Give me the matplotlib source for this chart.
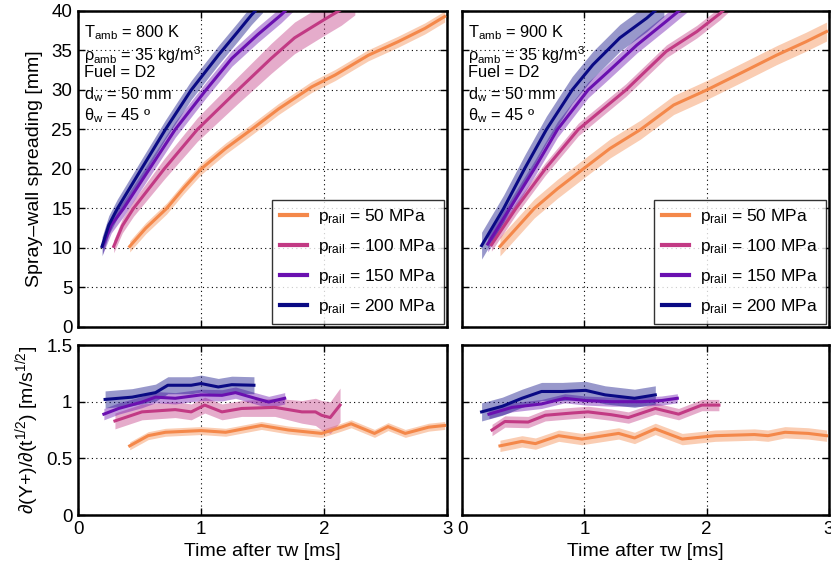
import numpy as np
import matplotlib
matplotlib.use("Agg")
import matplotlib.pyplot as plt

plt.rcParams["font.family"] = ["Liberation Sans", "DejaVu Sans"]
plt.rcParams["mathtext.fontset"] = "custom"
plt.rcParams["mathtext.rm"] = "Liberation Sans"
plt.rcParams["mathtext.it"] = "Liberation Sans:italic"
plt.rcParams["mathtext.bf"] = "Liberation Sans:bold"

# ---------- series styling ----------
labels = ["50", "100", "150", "200"]
colors = ["#f4884a", "#c23a84", "#6a10b0", "#0a0a84"]

# ---------- top-left: spreading, 800 K ----------
t800_50 = [0.42, 0.55, 0.72, 0.86, 1.00, 1.20, 1.41, 1.63, 1.90, 2.09, 2.36, 2.60, 2.82, 2.98]
s800_50 = [10.2, 12.5, 15.0, 17.6, 20.0, 22.6, 25.0, 27.6, 30.4, 31.9, 34.4, 36.1, 37.8, 39.3]
t800_100 = [0.29, 0.36, 0.45, 0.70, 0.97, 1.30, 1.57, 1.76, 2.00, 2.14, 2.25]
s800_100 = [10.2, 12.8, 15.0, 20.0, 25.0, 30.0, 34.0, 36.6, 38.9, 40.2, 41.5]
t800_150 = [0.20, 0.27, 0.37, 0.58, 0.79, 1.04, 1.25, 1.46, 1.65, 1.75]
s800_150 = [10.2, 12.9, 15.0, 20.0, 25.0, 30.0, 34.0, 37.0, 39.5, 41.0]
t800_200 = [0.195, 0.25, 0.32, 0.515, 0.71, 0.92, 1.14, 1.30, 1.41, 1.50]
s800_200 = [10.2, 12.9, 15.0, 20.0, 25.0, 30.0, 34.4, 37.4, 39.5, 41.0]
w800_50 = 0.7
w800_100 = [0.8, 0.9, 1.0, 1.3, 1.5, 1.7, 1.9, 2.0, 2.0, 2.0, 2.0]
w800_150 = 1.0
w800_200 = 1.2

# ---------- top-right: spreading, 900 K ----------
t900_50 = [0.31, 0.45, 0.59, 0.78, 0.99, 1.21, 1.46, 1.73, 2.00, 2.30, 2.57, 2.81, 2.98]
s900_50 = [10.2, 12.6, 15.0, 17.5, 20.0, 22.6, 25.0, 28.1, 30.0, 32.3, 34.4, 36.1, 37.4]
t900_100 = [0.24, 0.44, 0.68, 0.95, 1.34, 1.67, 1.92, 2.11, 2.20]
s900_100 = [10.4, 15.0, 20.0, 25.0, 30.0, 34.9, 37.4, 39.7, 41.0]
t900_150 = [0.21, 0.39, 0.59, 0.78, 1.03, 1.20, 1.43, 1.67, 1.85]
s900_150 = [10.5, 15.0, 20.0, 25.0, 30.0, 32.4, 35.7, 38.7, 41.0]
t900_200 = [0.16, 0.34, 0.51, 0.69, 0.90, 1.07, 1.29, 1.51, 1.65]
s900_200 = [10.3, 15.0, 20.0, 25.0, 30.0, 33.2, 36.6, 39.1, 41.0]
w900_50 = 1.2
w900_100 = 0.8
w900_150 = 1.0
w900_200 = 1.7

# ---------- bottom-left: rate, 800 K ----------
r800_t50 = [0.42, 0.57, 0.71, 1.00, 1.20, 1.49, 1.71, 1.98, 2.14, 2.22, 2.41, 2.52, 2.66, 2.85, 2.98]
r800_v50 = [0.61, 0.70, 0.73, 0.745, 0.73, 0.79, 0.75, 0.72, 0.775, 0.805, 0.72, 0.78, 0.72, 0.775, 0.79]
r800_t100 = [0.30, 0.52, 0.79, 0.92, 1.03, 1.17, 1.33, 1.60, 1.82, 1.93, 1.98, 2.05, 2.13]
r800_v100 = [0.83, 0.91, 0.93, 0.91, 0.97, 0.91, 0.94, 0.95, 0.91, 0.91, 0.88, 0.86, 0.97]
r800_t150 = [0.21, 0.33, 0.52, 0.63, 0.79, 1.00, 1.17, 1.28, 1.44, 1.55, 1.68]
r800_v150 = [0.89, 0.94, 0.997, 1.04, 1.03, 1.06, 1.056, 1.08, 1.03, 0.997, 1.03]
r800_t200 = [0.22, 0.44, 0.63, 0.73, 0.92, 1.00, 1.14, 1.25, 1.43]
r800_v200 = [1.02, 1.04, 1.08, 1.145, 1.145, 1.16, 1.13, 1.15, 1.145]
rw800_50 = 0.035
rw800_100 = [0.07, 0.07, 0.07, 0.07, 0.07, 0.07, 0.07, 0.08, 0.10, 0.12, 0.13, 0.14, 0.15]
rw800_150 = 0.05
rw800_200 = 0.075

# ---------- bottom-right: rate, 900 K ----------
r900_t50 = [0.31, 0.49, 0.60, 0.79, 0.98, 1.28, 1.41, 1.58, 1.80, 2.07, 2.39, 2.50, 2.64, 2.83, 2.98]
r900_v50 = [0.61, 0.65, 0.63, 0.70, 0.67, 0.72, 0.68, 0.76, 0.67, 0.70, 0.71, 0.70, 0.73, 0.72, 0.70]
r900_t100 = [0.245, 0.35, 0.54, 0.68, 0.90, 1.03, 1.22, 1.36, 1.58, 1.77, 1.96, 2.10]
r900_v100 = [0.75, 0.825, 0.82, 0.88, 0.90, 0.91, 0.885, 0.86, 0.94, 0.89, 0.97, 0.97]
r900_t150 = [0.22, 0.41, 0.65, 0.84, 1.01, 1.22, 1.47, 1.63, 1.76]
r900_v150 = [0.89, 0.95, 0.98, 1.03, 1.01, 1.00, 1.00, 1.01, 1.03]
r900_t200 = [0.16, 0.33, 0.49, 0.65, 0.82, 1.01, 1.17, 1.41, 1.58]
r900_v200 = [0.91, 0.96, 1.03, 1.09, 1.09, 1.10, 1.06, 1.03, 1.06]
rw900_50 = 0.05
rw900_100 = 0.05
rw900_150 = 0.04
rw900_200 = 0.08

cond_800 = ["T$_{\\rm amb}$ = 800 K", "\u03c1$_{\\rm amb}$ = 35 kg/m$^3$", "Fuel = D2",
            "d$_{\\rm w}$ = 50 mm", "\u03b8$_{\\rm w}$ = 45 \u00ba"]
cond_900 = ["T$_{\\rm amb}$ = 900 K", "\u03c1$_{\\rm amb}$ = 35 kg/m$^3$", "Fuel = D2",
            "d$_{\\rm w}$ = 50 mm", "\u03b8$_{\\rm w}$ = 45 \u00ba"]

top_800 = [(t800_50, s800_50, w800_50), (t800_100, s800_100, w800_100),
           (t800_150, s800_150, w800_150), (t800_200, s800_200, w800_200)]
top_900 = [(t900_50, s900_50, w900_50), (t900_100, s900_100, w900_100),
           (t900_150, s900_150, w900_150), (t900_200, s900_200, w900_200)]
bot_800 = [(r800_t50, r800_v50, rw800_50), (r800_t100, r800_v100, rw800_100),
           (r800_t150, r800_v150, rw800_150), (r800_t200, r800_v200, rw800_200)]
bot_900 = [(r900_t50, r900_v50, rw900_50), (r900_t100, r900_v100, rw900_100),
           (r900_t150, r900_v150, rw900_150), (r900_t200, r900_v200, rw900_200)]


def style_axes(ax, yticks, ylim):
    ax.set_xlim(0, 3)
    ax.set_ylim(*ylim)
    ax.set_xticks([0, 1, 2, 3])
    ax.set_yticks(yticks)
    ax.grid(True, linestyle=(0, (1, 3)), color="black", linewidth=0.8)
    ax.tick_params(direction="in", top=True, right=True, length=5,
                   width=1.0, labelsize=13.5, pad=4)
    for sp in ax.spines.values():
        sp.set_linewidth(1.8)


def draw_series(ax, series):
    # band first, line on top
    for (t, v, w), c in zip(series, colors):
        t = np.asarray(t)
        v = np.asarray(v)
        w = np.asarray(w)
        ax.fill_between(t, v - w, v + w, color=c, alpha=0.42, linewidth=0, zorder=2)
    for (t, v, w), c, lab in zip(series, colors, labels):
        ax.plot(t, v, color=c, linewidth=2.2, zorder=3,
                label="p$_{\\rm rail}$ = %s MPa" % lab)


fig = plt.figure(figsize=(8.31, 5.67), dpi=100)
ax_tl = fig.add_axes([0.0939, 0.4233, 0.4441, 0.5573])
ax_tr = fig.add_axes([0.5560, 0.4233, 0.4416, 0.5573])
ax_bl = fig.add_axes([0.0939, 0.0917, 0.4441, 0.2998])
ax_br = fig.add_axes([0.5560, 0.0917, 0.4416, 0.2998])

top_ticks = np.arange(0, 41, 5)
bot_ticks = [0, 0.5, 1, 1.5]

for ax, series, cond in [(ax_tl, top_800, cond_800), (ax_tr, top_900, cond_900)]:
    style_axes(ax, top_ticks, (0, 40))
    ax.set_xticklabels([])
    draw_series(ax, series)
    for i, line in enumerate(cond):
        ax.text(0.015, 0.962 - i * 0.066, line, transform=ax.transAxes,
                fontsize=11.8, va="top", ha="left", zorder=5)
    leg = ax.legend(loc="lower right", fontsize=12.5, frameon=True, fancybox=False,
                    edgecolor="black", borderaxespad=0.2, handlelength=1.6,
                    handletextpad=0.6, labelspacing=0.62, borderpad=0.45)
    leg.get_frame().set_linewidth(1.0)
    for h in leg.get_lines():
        h.set_linewidth(3.0)

for ax, series in [(ax_bl, bot_800), (ax_br, bot_900)]:
    style_axes(ax, bot_ticks, (0, 1.5))
    ax.set_yticklabels(["0", "0.5", "1", "1.5"])
    draw_series(ax, series)
    ax.set_xlabel("Time after \u03c4w [ms]", fontsize=14, labelpad=4)

ax_tr.set_yticklabels([])
ax_br.set_yticklabels([])

ax_tl.set_ylabel("Spray\u2013wall spreading [mm]", fontsize=14, labelpad=6)
ax_bl.set_ylabel("\u2202(Y+)/\u2202(t$^{1/2}$) [m/s$^{1/2}$]", fontsize=14, labelpad=4)

fig.savefig("out.png", dpi=100)
